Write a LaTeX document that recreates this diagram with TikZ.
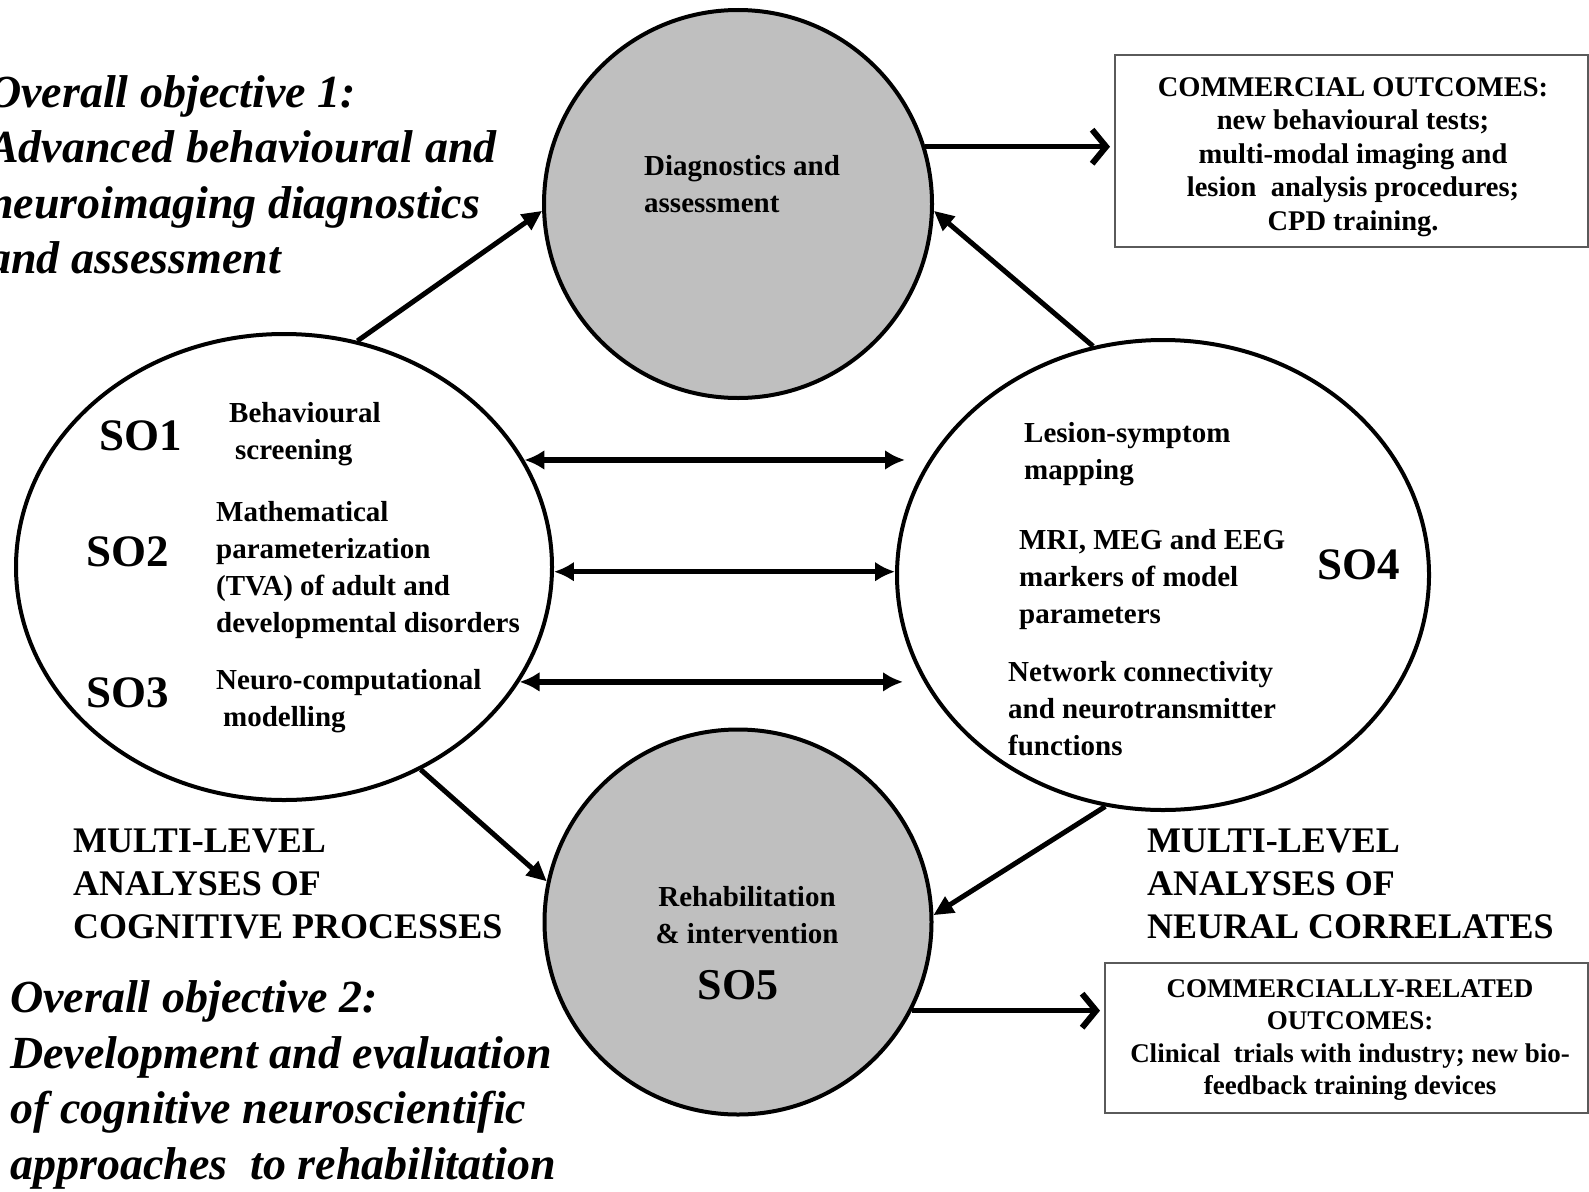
\documentclass[tikz,border=0pt]{standalone}
\usepackage{fontspec}
\setmainfont{Liberation Serif}
\usetikzlibrary{shapes.geometric,arrows.meta,calc}
\definecolor{circfill}{RGB}{191,191,191}
\definecolor{boxline}{RGB}{90,90,90}
\begin{document}
\begin{tikzpicture}[x=1pt,y=-1pt,
  oval/.style={ellipse,draw=black,line width=4pt,inner sep=0pt},
  graycirc/.style={oval,fill=circfill},
  whiteoval/.style={oval,fill=white},
  obj/.style={font=\fontsize{46}{55.5}\selectfont\bfseries\itshape,align=left,anchor=west,inner sep=0pt},
  mlvl/.style={font=\fontsize{36}{43}\selectfont\bfseries,align=left,anchor=west,inner sep=0pt},
  item/.style={font=\fontsize{29}{37}\selectfont\bfseries,align=left,anchor=west,inner sep=0pt},
  soname/.style={font=\fontsize{45}{50}\selectfont\bfseries,anchor=west,inner sep=0pt},
  outbox/.style={draw=boxline,line width=2pt,fill=white,inner sep=0pt},
  boxtext/.style={align=center,inner sep=0pt},
  diag/.style={line width=5pt,-{Triangle[length=20pt,width=18pt]}},
  dbl/.style={line width=5.5pt,{Latex[length=20pt,width=20pt]}-{Latex[length=20pt,width=20pt]}},
  outarr/.style={line width=5pt,shorten >=4pt,-{Straight Barb[length=14pt,width=34pt,line width=6pt]}}
]
\fill[white] (0,0) rectangle (1589,1191);
\useasboundingbox (0,0) rectangle (1589,1191);

% main shapes
\node[graycirc,minimum width=388pt,minimum height=388pt] (T) at (738,204) {};
\node[whiteoval,minimum width=536pt,minimum height=466pt] (L) at (284,567) {};
\node[whiteoval,minimum width=532pt,minimum height=470pt] (R) at (1163,575) {};
\node[graycirc,minimum width=387pt,minimum height=385pt] (B) at (738,922) {};

% outcome boxes
\node[outbox,minimum width=473pt,minimum height=192pt] (OC1) at (1351.5,151) {};
\node[boxtext,font=\fontsize{28.5}{33.5}\selectfont\bfseries] (OC1t) at (1353,157)
  {COMMERCIAL OUTCOMES:\\new behavioural tests;\\multi-modal imaging and\\lesion\ \ analysis procedures;\\CPD training.};
\node[outbox,minimum width=483pt,minimum height=150pt] (OC2) at (1346.5,1038) {};
\node[boxtext,font=\fontsize{27}{32.5}\selectfont\bfseries] (OC2t) at (1350,1040)
  {COMMERCIALLY-RELATED\\OUTCOMES:\\Clinical\ \ trials with industry; new bio-\\feedback training devices};

% texts in the circles
\node[item] (Ttxt) at (644,184) {Diagnostics and\\assessment};
\node[item,align=center,anchor=center] (Btxt) at (747,915) {Rehabilitation\\\& intervention};
\node[font=\fontsize{44}{50}\selectfont\bfseries,inner sep=0pt] (so5) at (738,985) {SO5};

\node[soname] (so1) at (99,436) {SO1};
\node[soname] (so2) at (86,552) {SO2};
\node[soname] (so3) at (86,693) {SO3};
\node[soname] (so4) at (1317,565) {SO4};

\node[item] (s1t) at (229,434.5) {Behavioural\\\hspace{6pt}screening};
\node[item] (s2t) at (216,570) {Mathematical\\parameterization\\(TVA) of adult and\\developmental disorders};
\node[item] (s3t) at (216,701.5) {Neuro-computational\\\hspace{7pt}modelling};
\node[item] (s4a) at (1024,454) {Lesion-symptom\\mapping};
\node[item] (s4b) at (1019,580) {MRI, MEG and EEG\\markers of model\\parameters};
\node[item] (s4c) at (1008,709) {Network connectivity\\and neurotransmitter\\functions};

% outer texts
\node[obj] (o1) at (-12,175) {Overall objective 1:\\Advanced behavioural and\\neuroimaging diagnostics\\and assessment};
\node[obj] (o2) at (10,1085) {Overall objective 2:\\Development and evaluation\\of cognitive neuroscientific\\approaches\ \ to rehabilitation};
\node[mlvl] (ml1) at (73,884) {MULTI-LEVEL\\ANALYSES OF\\COGNITIVE PROCESSES};
\node[mlvl] (ml2) at (1147,884) {MULTI-LEVEL\\ANALYSES OF\\NEURAL CORRELATES};

% connectors
\draw[diag] (L.72) -- (T.182);
\draw[diag] (R.107) -- (T.-2);
\draw[outarr] (T.17) -- (T.17 -| OC1.west);
\draw[dbl] (L.24) -- ($(L.24 -| R.west)+(10,0)$);
\draw[dbl] (L.-1) -- (L.-1 -| R.west);
\draw[dbl] (L.-26) -- ($(L.-26 -| R.west)+(8,0)$);
\draw[diag] (L.-56) -- (B.168);
\draw[diag] (R.-104) -- (B.2);
\draw[outarr] (B.-27) -- (B.-27 -| OC2.west);
\end{tikzpicture}
\end{document}
